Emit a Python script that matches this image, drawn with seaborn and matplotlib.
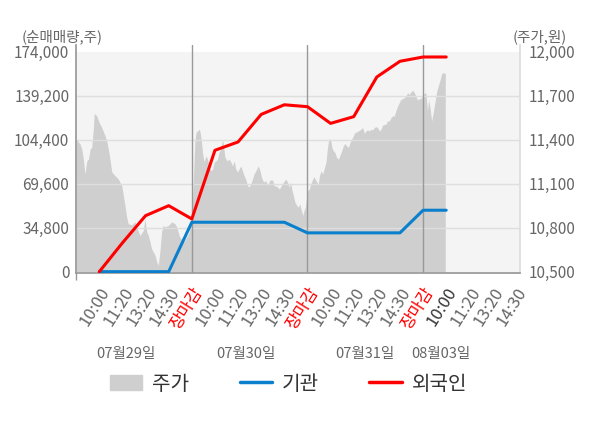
import numpy as np
import pandas as pd
import matplotlib.pyplot as plt
import seaborn as sns
from matplotlib.patches import Patch
from matplotlib.lines import Line2D

# x axis categories (4 trading days)
tick_labels = ['10:00', '11:20', '13:20', '14:30', '장마감',
               '10:00', '11:20', '13:20', '14:30', '장마감',
               '10:00', '11:20', '13:20', '14:30', '장마감',
               '10:00', '11:20', '13:20', '14:30']
day_labels = ['07월29일', '07월30일', '07월31일', '08월03일']
day_label_pos = [1.14, 6.32, 11.5, 14.78]

# cumulative net buying (shares)
foreign = [0, 22800, 44300, 52200, 41700, 96000, 102600, 124400,
           132000, 130500, 117300, 122600, 154000, 166400, 169800, 169800]
institution = [0, 0, 0, 0, 39100, 39100, 39100, 39100,
               39100, 30700, 30700, 30700, 30700, 30700, 48600, 48600]

# stock price (won)
price_pos = [-0.99, -0.83, -0.76, -0.69, -0.62, -0.54, -0.47, -0.40, -0.33, -0.26,
             -0.22, -0.11, -0.01, 0.10, 0.25, 0.32, 0.39, 0.46, 0.54, 0.68,
             0.82, 0.97, 1.04, 1.11, 1.18, 1.25, 1.40, 1.54, 1.61, 1.76,
             1.90, 1.97, 2.05, 2.12, 2.19, 2.26, 2.41, 2.48, 2.55, 2.62,
             2.69, 2.76, 2.84, 2.98, 3.13, 3.27, 3.35, 3.45, 3.53, 3.66,
             3.79, 3.89, 3.96,
             4.03, 4.08, 4.13, 4.18, 4.25, 4.32, 4.36, 4.42, 4.46, 4.53,
             4.61, 4.68, 4.75, 4.82, 4.90, 4.97, 5.04, 5.11, 5.18, 5.25,
             5.33, 5.37, 5.43, 5.51, 5.61, 5.69, 5.76, 5.83, 5.90, 5.98,
             6.04, 6.12, 6.19, 6.26, 6.33, 6.41, 6.48, 6.55, 6.62, 6.69,
             6.77, 6.87, 6.95, 7.01, 7.10, 7.20, 7.27, 7.38, 7.50, 7.56,
             7.67, 7.79, 7.85, 7.96, 8.06, 8.13, 8.22, 8.28, 8.32, 8.39,
             8.46, 8.54, 8.61, 8.68, 8.72, 8.80, 8.85, 8.91, 8.97,
             9.01, 9.08, 9.14, 9.23, 9.28, 9.37, 9.47, 9.52, 9.59, 9.66,
             9.72, 9.80, 9.86, 9.92, 10.00, 10.06, 10.12, 10.19, 10.26, 10.34,
             10.41, 10.48, 10.55, 10.62, 10.70, 10.77, 10.84, 10.91, 10.98, 11.05,
             11.13, 11.20, 11.27, 11.34, 11.39, 11.46, 11.53, 11.60, 11.68, 11.74,
             11.82, 11.89, 11.96, 12.03, 12.11, 12.18, 12.25, 12.32, 12.39, 12.46,
             12.54, 12.61, 12.68, 12.76, 12.82, 12.90, 12.97, 13.04, 13.11, 13.19,
             13.26, 13.33, 13.40, 13.47, 13.55, 13.62, 13.69, 13.76, 13.83, 13.90,
             13.98,
             14.05, 14.12, 14.19, 14.24, 14.31, 14.37, 14.44, 14.51, 14.58, 14.65,
             14.72, 14.80, 14.84, 14.90, 14.96]
price_val = [11403, 11369, 11335, 11267, 11165, 11255, 11267, 11335, 11348, 11471,
             11579, 11561, 11518, 11484, 11425, 11391, 11335, 11267, 11179, 11154,
             11131, 11086, 11018, 10950, 10873, 10826, 10819, 10839, 10805, 10746,
             10780, 10860, 10771, 10746, 10704, 10656, 10611, 10568, 10543, 10636,
             10771, 10814, 10805, 10814, 10839, 10826, 10805, 10746, 10724, 10704,
             10738, 10771, 10839,
             10975, 11179, 11382, 11450, 11459, 11471, 11450, 11382, 11314, 11247,
             11289, 11267, 11221, 11188, 11199, 11247, 11255, 11267, 11314, 11335,
             11403, 11357, 11281, 11255, 11267, 11247, 11221, 11255, 11199, 11179,
             11199, 11221, 11188, 11154, 11131, 11086, 11077, 11097, 11131, 11165,
             11188, 11221, 11188, 11145, 11111, 11120, 11086, 11124, 11124, 11086,
             11082, 11063, 11082, 11109, 11131, 11113, 11075, 11109, 11063, 11018,
             10973, 10950, 10939, 10962, 10928, 10882, 10916, 10939, 11018,
             11052, 11063, 11097, 11131, 11147, 11120, 11097, 11154, 11188, 11165,
             11199, 11245, 11335, 11403, 11403, 11346, 11323, 11312, 11278, 11267,
             11294, 11323, 11357, 11373, 11357, 11346, 11380, 11403, 11425, 11448,
             11452, 11459, 11466, 11475, 11482, 11443, 11459, 11466, 11459, 11471,
             11466, 11482, 11489, 11482, 11459, 11471, 11498, 11504, 11504, 11527,
             11527, 11550, 11561, 11561, 11595, 11629, 11652, 11674, 11679, 11686,
             11697, 11720, 11708, 11724, 11737, 11720, 11697, 11669, 11679, 11679,
             11697,
             11715, 11720, 11595, 11674, 11606, 11527, 11584, 11652, 11720, 11764,
             11798, 11844, 11859, 11851, 11855]

left_ticks = [0, 34800, 69600, 104400, 139200, 174000]
right_ticks = [10500, 10800, 11100, 11400, 11700, 12000]

sns.set_theme(style='white')
plt.rcParams['font.family'] = ['Noto Sans CJK KR', 'DejaVu Sans']

grey_txt = '#666666'
fig = plt.figure(figsize=(6, 4.28), dpi=100)
# axes top sits 7px above the 174,000 level so the spines poke out a bit
ax = fig.add_axes([0.127, 0.362, 0.74, 0.5335])
ax2 = ax.twinx()

# price area on the right axis, drawn underneath
ax2.set_facecolor('white')
ax2.axhspan(10400, 12000, color='#f4f4f4', lw=0, zorder=0)
ax2.fill_between(price_pos, 10500, price_val, color='#cfcfcf', lw=0, zorder=1)
ax2.set_ylim(10490, 12047)
ax2.set_yticks(right_ticks)
ax2.set_yticklabels([f'{v:,}' for v in right_ticks], color=grey_txt, fontsize=11)
ax2.tick_params(axis='y', length=0, pad=6)

ax.set_zorder(ax2.get_zorder() + 1)
ax.patch.set_visible(False)

x = np.arange(len(foreign))
for y in left_ticks[1:-1]:
    ax.axhline(y, color='#dedede', lw=1, zorder=1)
for d in [4, 9, 14]:
    ax.axvline(d, color='#999999', lw=1, zorder=1)

sns.lineplot(x=x, y=institution, ax=ax, color='#0a80cc', lw=2.2, zorder=3)
sns.lineplot(x=x, y=foreign, ax=ax, color='#ff0000', lw=2.2, zorder=4)

ax.set_xlim(-1, 18.2)
ax.set_ylim(-1100, 179500)
ax.set_yticks(left_ticks)
ax.set_yticklabels([f'{v:,}' for v in left_ticks], color=grey_txt, fontsize=11)
ax.tick_params(axis='y', length=0, pad=5)

ax.set_xticks(range(len(tick_labels)))
ax.set_xticklabels(tick_labels, rotation=58, ha='right', va='top',
                   rotation_mode='anchor', fontsize=12)
for i, t in enumerate(ax.get_xticklabels()):
    if tick_labels[i] == '장마감':
        t.set_color('#ff0000')
    elif i == 15:
        t.set_color('#333333')
    else:
        t.set_color(grey_txt)
ax.tick_params(axis='x', length=0, pad=8)
ax.set_xticks([-1, 4, 9, 14], minor=True)
ax.tick_params(axis='x', which='minor', length=5, color='#999999', width=1,
               bottom=True)

ax.spines['top'].set_visible(False)
ax2.spines['top'].set_visible(False)
ax.spines['left'].set_color('#999999')
ax.spines['bottom'].set_color('#999999')
ax.spines['right'].set_visible(False)
ax2.spines['right'].set_color('#dddddd')
ax2.spines['left'].set_visible(False)
ax2.spines['bottom'].set_visible(False)

for lbl, p in zip(day_labels, day_label_pos):
    ax.text(p, -0.355, lbl, transform=ax.get_xaxis_transform(),
            ha='center', va='center', color=grey_txt, fontsize=10.5)

fig.text(22 / 600, 1 - 37 / 428, '(순매매량,주)', color=grey_txt, fontsize=10.5,
         ha='left', va='center')
fig.text(567 / 600, 1 - 37 / 428, '(주가,원)', color=grey_txt, fontsize=10.5,
         ha='right', va='center')

handles = [Patch(color='#cfcfcf', label='주가'),
           Line2D([], [], color='#0a80cc', lw=2.5, label='기관'),
           Line2D([], [], color='#ff0000', lw=2.5, label='외국인')]
fig.legend(handles=handles, loc='center', bbox_to_anchor=(0.481, 1 - 384 / 428),
           ncol=3, frameon=False, fontsize=14.5, handlelength=1.6,
           columnspacing=2.5, handletextpad=0.5, labelcolor='#333333')

fig.savefig('out.png', dpi=100)
